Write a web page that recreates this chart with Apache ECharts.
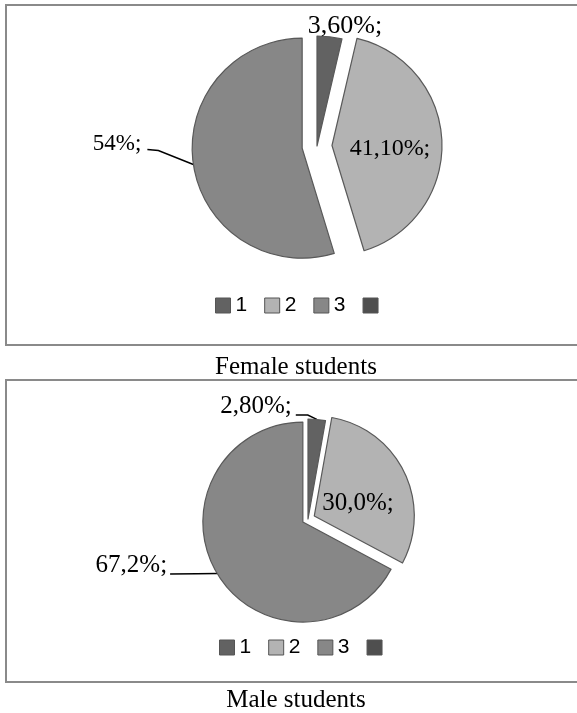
<!DOCTYPE html>
<html><head><meta charset="utf-8">
<script src="https://cdn.jsdelivr.net/npm/echarts@6/dist/echarts.min.js"></script>
<style>html,body{margin:0;padding:0;background:#fff}#c{width:577px;height:713px}</style>
</head><body><div id="c"></div><script>
// ---- data ----
const categories = ['1', '2', '3', '4'];
const femaleValues = [3.6, 41.1, 54.0, 0];
const maleValues = [2.8, 30.0, 67.2, 0];
const femaleLabels = ['3,60%;', '41,10%;', '54%;', ''];
const maleLabels = ['2,80%;', '30,0%;', '67,2%;', ''];
const chartTitles = ['Female students', 'Male students'];

// ---- style ----
const colors = ['#626262', '#b3b3b3', '#878787', '#4f4f4f'];
const serif = 'Liberation Serif';
const charts = [
  { values: femaleValues, labels: femaleLabels, center: [317, 146], radius: 110,
    explode: [0, 15, 15, 0], labelPos: ['outside', 'inside', 'outside'],
    fontSize: [26, 24, 23],
    labelShift: [[-48, -1], [0, 5], null],
    guide: [null, null, { anchor: [-52, -20], bend: [-35, -14], end: [6, 5] }],
    legendLeft: 215, legendTop: 295, box: [6, 5, 340], titleY: 367 },
  { values: maleValues, labels: maleLabels, center: [308, 519], radius: 100,
    explode: [0, 7, 6, 0], labelPos: ['outside', 'inside', 'outside'],
    fontSize: [25, 25, 25],
    labelShift: [null, [-4, 11], null],
    guide: [{ anchor: [-25, -13], bend: [-9, -4.4], end: [4, 8.5] }, null,
            { anchor: [-50, -8], bend: [-20, 0.3], end: [3, 8.5] }],
    legendLeft: 219, legendTop: 637, box: [6, 380, 302], titleY: 700 }
];

const series = [];
const legends = [];
const graphics = [];
charts.forEach((ch, ci) => {
  for (let k = 0; k < 3; k++) {
    const g = ch.guide[k];
    series.push({
      type: 'pie', center: ch.center, radius: ch.radius, startAngle: 90, clockwise: true,
      selectedMode: 'multiple', selectedOffset: ch.explode[k],
      avoidLabelOverlap: false, animation: false, silent: true,
      emphasis: { disabled: true },
      select: { itemStyle: { borderColor: '#595959', borderWidth: 1.2 } },
      labelLayout: (p) => {
        if (!g) {
          const s = ch.labelShift[k];
          return s ? { dx: s[0], dy: s[1] } : {};
        }
        const pts = p.labelLinePoints;
        if (!pts || !pts.length) return {};
        const p0 = pts[0];
        const r = p.labelRect;
        const ax = p0[0] + g.anchor[0], ay = p0[1] + g.anchor[1];
        return {
          dx: ax - (r.x + r.width), dy: ay - (r.y + r.height / 2),
          labelLinePoints: [[p0[0], p0[1]], [p0[0] + g.bend[0], p0[1] + g.bend[1]], [ax + g.end[0], ay + g.end[1]]]
        };
      },
      data: categories.map((name, i) => ({
        name, value: ch.values[i], selected: i === k && ch.explode[k] > 0,
        itemStyle: i === k
          ? { color: colors[i], borderColor: '#595959', borderWidth: 1.2 }
          : { color: colors[i], opacity: 0, borderWidth: 0 },
        label: i === k
          ? { show: true, position: ch.labelPos[k], formatter: ch.labels[i],
              fontFamily: serif, fontSize: ch.fontSize[k], color: '#000' }
          : { show: false },
        labelLine: i === k
          ? { show: !!g, length: 10, length2: 20, smooth: false,
              lineStyle: { color: '#000', width: 1.5 } }
          : { show: false }
      }))
    });
  }
  legends.push({
    left: ch.legendLeft, top: ch.legendTop, padding: 0, orient: 'horizontal', icon: 'rect',
    itemWidth: 15, itemHeight: 15, itemGap: 17, selectedMode: false,
    formatter: n => (n === '4' ? '' : n),
    textStyle: { fontFamily: 'Liberation Sans', fontSize: 21, color: '#000' },
    data: categories.map((n, i) => ({ name: n, itemStyle: { color: colors[i], borderColor: '#555', borderWidth: 1, opacity: 1 } }))
  });
  graphics.push({
    type: 'rect', shape: { x: ch.box[0], y: ch.box[1], width: 620, height: ch.box[2] },
    style: { fill: 'none', stroke: '#8a8a8a', lineWidth: 2 }, silent: true
  });
  graphics.push({
    type: 'text', x: 296, y: ch.titleY,
    style: { text: chartTitles[ci], font: '25px "Liberation Serif"', fill: '#000', textAlign: 'center', textVerticalAlign: 'middle' }
  });
});

const chart = echarts.init(document.getElementById('c'));
chart.setOption({ animation: false, legend: legends, series, graphic: graphics });
</script></body></html>
